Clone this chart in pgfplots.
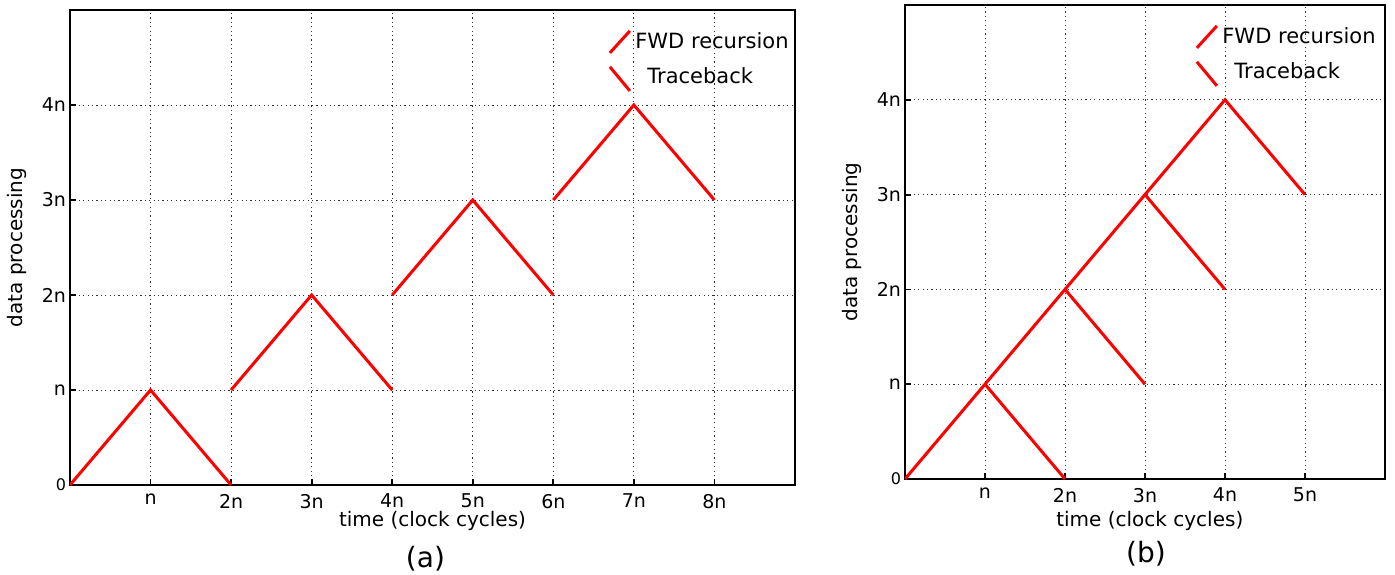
\documentclass[border=0pt]{standalone}
\usepackage{pgfplots}
\pgfplotsset{compat=1.18}
\usepackage{fontspec}
\setmainfont{DejaVu Sans}
\begin{document}
\begin{tikzpicture}
\useasboundingbox (-35pt,-44.5pt) rectangle (662.5pt,242.5pt);
\pgfplotsset{
  common/.style={
    scale only axis,
    axis line style={line width=0.9pt},
    tick align=inside,
    xtick pos=bottom, ytick pos=left,
    major tick length=3pt,
    tick style={line width=0.9pt, black},
    grid=major,
    major grid style={black!80, line width=0.5pt, dash pattern=on 0.6pt off 1.6pt},
    ymin=0, ymax=5, xmin=0,
    ytick={0,1,2,3,4},
    yticklabels={{\fontsize{8}{9}\selectfont 0},n,2n,3n,4n},
    tick label style={font=\fontsize{9.5}{11}\selectfont},
    yticklabel style={xshift=1.5pt},
    xticklabel style={yshift=-1pt},
    label style={font=\fontsize{10.5}{12}\selectfont},
    every axis y label/.style={at={(axis description cs:0,0.5)}, rotate=90, anchor=center, yshift=26.5pt},
    every axis x label/.style={at={(axis description cs:0.5,0)}, anchor=center, yshift=-18pt},
    ylabel={data processing},
    xlabel={time (clock cycles)},
    legend style={at={(1,1)}, anchor=north east, draw=none, fill=none, font=\fontsize{10.5}{12}\selectfont, row sep=4pt, xshift=2pt, yshift=-7pt},
    legend cell align=left,
  },
  redline/.style={red, line width=1.5pt, no marks},
  fwdleg/.style={legend image code/.code={\draw[red, line width=1.5pt] (0pt,-5.5pt) -- (10pt,5.5pt);}},
  tbleg/.style={legend image code/.code={\draw[red, line width=1.5pt] (0pt,5pt) -- (10pt,-7pt);}},
}
\begin{axis}[common, name=A, at={(0pt,0pt)}, anchor=south west, width=362.5pt, height=237.5pt,
  xmax=9, xtick={0,1,2,3,4,5,6,7,8}, xticklabels={,n,2n,3n,4n,5n,6n,7n,8n}]
\addlegendimage{fwdleg}
\addlegendentry{FWD recursion}
\addlegendimage{tbleg}
\addlegendentry{\hspace{6pt}Traceback}
\addplot[redline, forget plot] coordinates {(0,0) (1,1) (2,0)};
\addplot[redline, forget plot] coordinates {(2,1) (3,2) (4,1)};
\addplot[redline, forget plot] coordinates {(4,2) (5,3) (6,2)};
\addplot[redline, forget plot] coordinates {(6,3) (7,4) (8,3)};
\end{axis}
\begin{axis}[common, name=B, at={(417.5pt,3pt)}, anchor=south west, width=240pt, height=237pt,
  xmax=6, xtick={0,1,2,3,4,5}, xticklabels={,n,2n,3n,4n,5n},
  legend style={xshift=-1.5pt},
  every axis x label/.style={at={(axis description cs:0.51,0)}, anchor=center, yshift=-21pt}]
\addlegendimage{fwdleg}
\addlegendentry{FWD recursion}
\addlegendimage{tbleg}
\addlegendentry{\hspace{6pt}Traceback}
\addplot[redline, forget plot] coordinates {(0,0) (4,4) (5,3)};
\addplot[redline, forget plot] coordinates {(1,1) (2,0)};
\addplot[redline, forget plot] coordinates {(2,2) (3,1)};
\addplot[redline, forget plot] coordinates {(3,3) (4,2)};
\end{axis}
\node[font=\fontsize{14}{16}\selectfont] at ([xshift=-3.5pt,yshift=-37pt]A.south) {(a)};
\node[font=\fontsize{14}{16}\selectfont] at ([xshift=0.5pt,yshift=-37.5pt]B.south) {(b)};
\end{tikzpicture}
\end{document}
